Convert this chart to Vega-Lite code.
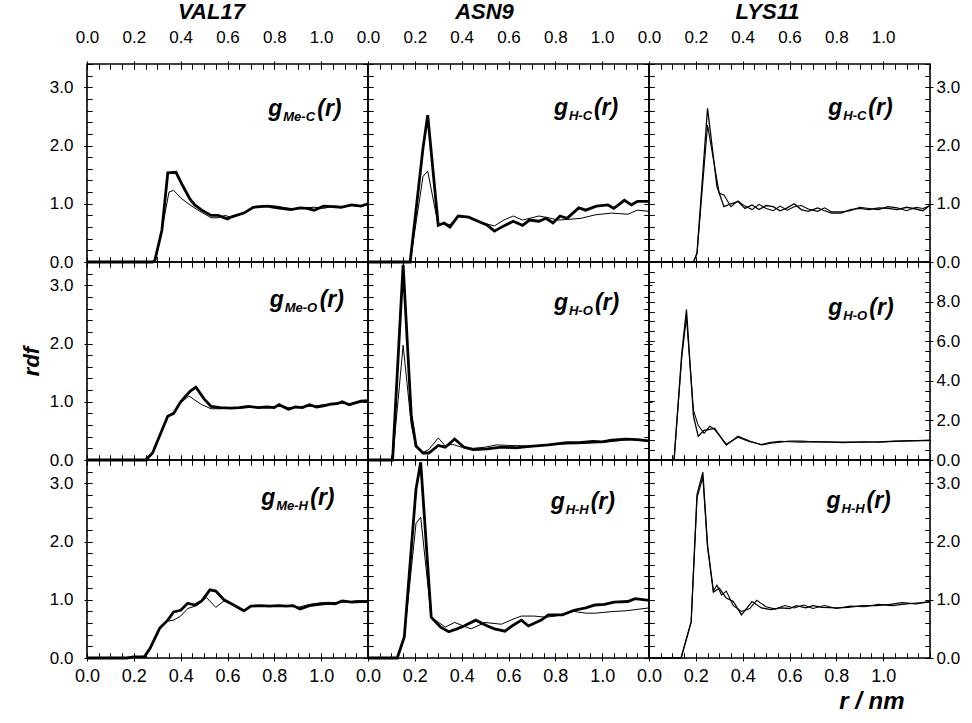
{
"$schema": "https://vega.github.io/schema/vega-lite/v6.json",
"background": "white",
"padding": {"left": 19, "top": 0, "right": 0, "bottom": 0},
"data": {"values": [
{"p":"V1","s":"a","r":0,"g":0},{"p":"V1","s":"a","r":0.28,"g":0},{"p":"V1","s":"a","r":0.29,"g":0.03},{"p":"V1","s":"a","r":0.32,"g":0.55},{"p":"V1","s":"a","r":0.345,"g":1.53},{"p":"V1","s":"a","r":0.38,"g":1.54},{"p":"V1","s":"a","r":0.41,"g":1.3},{"p":"V1","s":"a","r":0.44,"g":1.08},{"p":"V1","s":"a","r":0.46,"g":0.98},{"p":"V1","s":"a","r":0.49,"g":0.89},{"p":"V1","s":"a","r":0.53,"g":0.8},{"p":"V1","s":"a","r":0.56,"g":0.8},{"p":"V1","s":"a","r":0.6,"g":0.74},{"p":"V1","s":"a","r":0.62,"g":0.78},{"p":"V1","s":"a","r":0.67,"g":0.84},{"p":"V1","s":"a","r":0.71,"g":0.94},{"p":"V1","s":"a","r":0.74,"g":0.95},{"p":"V1","s":"a","r":0.77,"g":0.96},{"p":"V1","s":"a","r":0.8,"g":0.94},{"p":"V1","s":"a","r":0.83,"g":0.92},{"p":"V1","s":"a","r":0.87,"g":0.9},{"p":"V1","s":"a","r":0.91,"g":0.93},{"p":"V1","s":"a","r":0.94,"g":0.92},{"p":"V1","s":"a","r":0.97,"g":0.89},{"p":"V1","s":"a","r":1.01,"g":0.96},{"p":"V1","s":"a","r":1.05,"g":0.95},{"p":"V1","s":"a","r":1.085,"g":0.94},{"p":"V1","s":"a","r":1.13,"g":0.98},{"p":"V1","s":"a","r":1.17,"g":0.96},{"p":"V1","s":"a","r":1.2,"g":1.0},
{"p":"V1","s":"b","r":0,"g":0},{"p":"V1","s":"b","r":0.28,"g":0},{"p":"V1","s":"b","r":0.29,"g":0.03},{"p":"V1","s":"b","r":0.32,"g":0.55},{"p":"V1","s":"b","r":0.35,"g":1.2},{"p":"V1","s":"b","r":0.37,"g":1.23},{"p":"V1","s":"b","r":0.4,"g":1.1},{"p":"V1","s":"b","r":0.44,"g":0.98},{"p":"V1","s":"b","r":0.47,"g":0.9},{"p":"V1","s":"b","r":0.5,"g":0.83},{"p":"V1","s":"b","r":0.53,"g":0.76},{"p":"V1","s":"b","r":0.56,"g":0.76},{"p":"V1","s":"b","r":0.59,"g":0.8},{"p":"V1","s":"b","r":0.62,"g":0.76},{"p":"V1","s":"b","r":0.67,"g":0.84},{"p":"V1","s":"b","r":0.71,"g":0.95},{"p":"V1","s":"b","r":0.77,"g":0.97},{"p":"V1","s":"b","r":0.81,"g":0.96},{"p":"V1","s":"b","r":0.85,"g":0.93},{"p":"V1","s":"b","r":0.89,"g":0.91},{"p":"V1","s":"b","r":0.93,"g":0.93},{"p":"V1","s":"b","r":0.97,"g":0.94},{"p":"V1","s":"b","r":1.01,"g":0.92},{"p":"V1","s":"b","r":1.05,"g":0.96},{"p":"V1","s":"b","r":1.09,"g":0.95},{"p":"V1","s":"b","r":1.13,"g":0.97},{"p":"V1","s":"b","r":1.17,"g":0.95},{"p":"V1","s":"b","r":1.2,"g":0.99},
{"p":"A1","s":"a","r":0,"g":0},{"p":"A1","s":"a","r":0.18,"g":0},{"p":"A1","s":"a","r":0.235,"g":1.96},{"p":"A1","s":"a","r":0.255,"g":2.52},{"p":"A1","s":"a","r":0.3,"g":0.63},{"p":"A1","s":"a","r":0.325,"g":0.67},{"p":"A1","s":"a","r":0.35,"g":0.6},{"p":"A1","s":"a","r":0.385,"g":0.79},{"p":"A1","s":"a","r":0.43,"g":0.77},{"p":"A1","s":"a","r":0.47,"g":0.7},{"p":"A1","s":"a","r":0.51,"g":0.63},{"p":"A1","s":"a","r":0.54,"g":0.53},{"p":"A1","s":"a","r":0.58,"g":0.62},{"p":"A1","s":"a","r":0.62,"g":0.7},{"p":"A1","s":"a","r":0.66,"g":0.63},{"p":"A1","s":"a","r":0.69,"g":0.72},{"p":"A1","s":"a","r":0.73,"g":0.7},{"p":"A1","s":"a","r":0.76,"g":0.75},{"p":"A1","s":"a","r":0.79,"g":0.67},{"p":"A1","s":"a","r":0.82,"g":0.79},{"p":"A1","s":"a","r":0.85,"g":0.75},{"p":"A1","s":"a","r":0.9,"g":0.93},{"p":"A1","s":"a","r":0.93,"g":0.89},{"p":"A1","s":"a","r":0.975,"g":0.96},{"p":"A1","s":"a","r":1.025,"g":0.98},{"p":"A1","s":"a","r":1.05,"g":0.92},{"p":"A1","s":"a","r":1.095,"g":1.06},{"p":"A1","s":"a","r":1.125,"g":0.98},{"p":"A1","s":"a","r":1.15,"g":1.04},{"p":"A1","s":"a","r":1.2,"g":1.04},
{"p":"A1","s":"b","r":0,"g":0},{"p":"A1","s":"b","r":0.18,"g":0},{"p":"A1","s":"b","r":0.235,"g":1.47},{"p":"A1","s":"b","r":0.255,"g":1.56},{"p":"A1","s":"b","r":0.3,"g":0.63},{"p":"A1","s":"b","r":0.33,"g":0.66},{"p":"A1","s":"b","r":0.35,"g":0.64},{"p":"A1","s":"b","r":0.385,"g":0.78},{"p":"A1","s":"b","r":0.42,"g":0.78},{"p":"A1","s":"b","r":0.46,"g":0.71},{"p":"A1","s":"b","r":0.5,"g":0.66},{"p":"A1","s":"b","r":0.54,"g":0.62},{"p":"A1","s":"b","r":0.58,"g":0.72},{"p":"A1","s":"b","r":0.62,"g":0.79},{"p":"A1","s":"b","r":0.66,"g":0.72},{"p":"A1","s":"b","r":0.7,"g":0.76},{"p":"A1","s":"b","r":0.73,"g":0.79},{"p":"A1","s":"b","r":0.77,"g":0.76},{"p":"A1","s":"b","r":0.81,"g":0.72},{"p":"A1","s":"b","r":0.85,"g":0.73},{"p":"A1","s":"b","r":0.91,"g":0.75},{"p":"A1","s":"b","r":0.97,"g":0.81},{"p":"A1","s":"b","r":1.04,"g":0.84},{"p":"A1","s":"b","r":1.11,"g":0.82},{"p":"A1","s":"b","r":1.15,"g":0.89},{"p":"A1","s":"b","r":1.2,"g":0.87},
{"p":"L1","s":"a","r":0,"g":0},{"p":"L1","s":"a","r":0.19,"g":0},{"p":"L1","s":"a","r":0.205,"g":0.15},{"p":"L1","s":"a","r":0.25,"g":2.64},{"p":"L1","s":"a","r":0.29,"g":1.3},{"p":"L1","s":"a","r":0.32,"g":0.95},{"p":"L1","s":"a","r":0.35,"g":1.0},{"p":"L1","s":"a","r":0.38,"g":1.04},{"p":"L1","s":"a","r":0.41,"g":0.92},{"p":"L1","s":"a","r":0.44,"g":0.98},{"p":"L1","s":"a","r":0.47,"g":0.9},{"p":"L1","s":"a","r":0.5,"g":0.97},{"p":"L1","s":"a","r":0.53,"g":0.95},{"p":"L1","s":"a","r":0.56,"g":0.88},{"p":"L1","s":"a","r":0.59,"g":0.93},{"p":"L1","s":"a","r":0.62,"g":1.0},{"p":"L1","s":"a","r":0.65,"g":0.9},{"p":"L1","s":"a","r":0.68,"g":0.87},{"p":"L1","s":"a","r":0.72,"g":0.93},{"p":"L1","s":"a","r":0.75,"g":0.88},{"p":"L1","s":"a","r":0.78,"g":0.84},{"p":"L1","s":"a","r":0.82,"g":0.84},{"p":"L1","s":"a","r":0.86,"g":0.9},{"p":"L1","s":"a","r":0.9,"g":0.92},{"p":"L1","s":"a","r":0.94,"g":0.9},{"p":"L1","s":"a","r":0.98,"g":0.93},{"p":"L1","s":"a","r":1.02,"g":0.92},{"p":"L1","s":"a","r":1.06,"g":0.9},{"p":"L1","s":"a","r":1.1,"g":0.94},{"p":"L1","s":"a","r":1.14,"g":0.91},{"p":"L1","s":"a","r":1.17,"g":0.88},{"p":"L1","s":"a","r":1.2,"g":0.98},
{"p":"L1","s":"b","r":0,"g":0},{"p":"L1","s":"b","r":0.19,"g":0},{"p":"L1","s":"b","r":0.205,"g":0.15},{"p":"L1","s":"b","r":0.25,"g":2.35},{"p":"L1","s":"b","r":0.3,"g":1.18},{"p":"L1","s":"b","r":0.32,"g":1.15},{"p":"L1","s":"b","r":0.35,"g":0.95},{"p":"L1","s":"b","r":0.38,"g":1.05},{"p":"L1","s":"b","r":0.41,"g":0.96},{"p":"L1","s":"b","r":0.44,"g":0.9},{"p":"L1","s":"b","r":0.47,"g":0.99},{"p":"L1","s":"b","r":0.5,"g":0.92},{"p":"L1","s":"b","r":0.53,"g":0.88},{"p":"L1","s":"b","r":0.56,"g":0.96},{"p":"L1","s":"b","r":0.59,"g":0.89},{"p":"L1","s":"b","r":0.62,"g":0.95},{"p":"L1","s":"b","r":0.65,"g":0.97},{"p":"L1","s":"b","r":0.68,"g":0.91},{"p":"L1","s":"b","r":0.72,"g":0.87},{"p":"L1","s":"b","r":0.75,"g":0.93},{"p":"L1","s":"b","r":0.78,"g":0.86},{"p":"L1","s":"b","r":0.82,"g":0.86},{"p":"L1","s":"b","r":0.86,"g":0.88},{"p":"L1","s":"b","r":0.9,"g":0.94},{"p":"L1","s":"b","r":0.94,"g":0.92},{"p":"L1","s":"b","r":0.98,"g":0.9},{"p":"L1","s":"b","r":1.02,"g":0.95},{"p":"L1","s":"b","r":1.06,"g":0.93},{"p":"L1","s":"b","r":1.1,"g":0.88},{"p":"L1","s":"b","r":1.14,"g":0.94},{"p":"L1","s":"b","r":1.17,"g":0.92},{"p":"L1","s":"b","r":1.2,"g":0.96},
{"p":"V2","s":"a","r":0,"g":0},{"p":"V2","s":"a","r":0.25,"g":0},{"p":"V2","s":"a","r":0.28,"g":0.12},{"p":"V2","s":"a","r":0.32,"g":0.51},{"p":"V2","s":"a","r":0.345,"g":0.75},{"p":"V2","s":"a","r":0.37,"g":0.8},{"p":"V2","s":"a","r":0.4,"g":1.0},{"p":"V2","s":"a","r":0.44,"g":1.18},{"p":"V2","s":"a","r":0.465,"g":1.25},{"p":"V2","s":"a","r":0.5,"g":1.05},{"p":"V2","s":"a","r":0.53,"g":0.92},{"p":"V2","s":"a","r":0.57,"g":0.9},{"p":"V2","s":"a","r":0.61,"g":0.89},{"p":"V2","s":"a","r":0.65,"g":0.9},{"p":"V2","s":"a","r":0.69,"g":0.92},{"p":"V2","s":"a","r":0.73,"g":0.9},{"p":"V2","s":"a","r":0.77,"g":0.91},{"p":"V2","s":"a","r":0.8,"g":0.9},{"p":"V2","s":"a","r":0.82,"g":0.95},{"p":"V2","s":"a","r":0.86,"g":0.87},{"p":"V2","s":"a","r":0.89,"g":0.91},{"p":"V2","s":"a","r":0.92,"g":0.9},{"p":"V2","s":"a","r":0.95,"g":0.95},{"p":"V2","s":"a","r":0.98,"g":0.91},{"p":"V2","s":"a","r":1.01,"g":0.93},{"p":"V2","s":"a","r":1.04,"g":0.96},{"p":"V2","s":"a","r":1.07,"g":0.97},{"p":"V2","s":"a","r":1.09,"g":1.0},{"p":"V2","s":"a","r":1.12,"g":0.95},{"p":"V2","s":"a","r":1.17,"g":1.01},{"p":"V2","s":"a","r":1.2,"g":1.02},
{"p":"V2","s":"b","r":0,"g":0},{"p":"V2","s":"b","r":0.25,"g":0},{"p":"V2","s":"b","r":0.28,"g":0.12},{"p":"V2","s":"b","r":0.32,"g":0.52},{"p":"V2","s":"b","r":0.345,"g":0.76},{"p":"V2","s":"b","r":0.37,"g":0.82},{"p":"V2","s":"b","r":0.4,"g":0.98},{"p":"V2","s":"b","r":0.435,"g":1.1},{"p":"V2","s":"b","r":0.49,"g":0.95},{"p":"V2","s":"b","r":0.53,"g":0.88},{"p":"V2","s":"b","r":0.57,"g":0.88},{"p":"V2","s":"b","r":0.61,"g":0.9},{"p":"V2","s":"b","r":0.65,"g":0.89},{"p":"V2","s":"b","r":0.69,"g":0.9},{"p":"V2","s":"b","r":0.73,"g":0.91},{"p":"V2","s":"b","r":0.77,"g":0.9},{"p":"V2","s":"b","r":0.8,"g":0.92},{"p":"V2","s":"b","r":0.83,"g":0.92},{"p":"V2","s":"b","r":0.86,"g":0.9},{"p":"V2","s":"b","r":0.89,"g":0.9},{"p":"V2","s":"b","r":0.92,"g":0.92},{"p":"V2","s":"b","r":0.95,"g":0.92},{"p":"V2","s":"b","r":0.98,"g":0.93},{"p":"V2","s":"b","r":1.01,"g":0.95},{"p":"V2","s":"b","r":1.04,"g":0.95},{"p":"V2","s":"b","r":1.07,"g":0.98},{"p":"V2","s":"b","r":1.1,"g":0.97},{"p":"V2","s":"b","r":1.13,"g":0.97},{"p":"V2","s":"b","r":1.17,"g":0.99},{"p":"V2","s":"b","r":1.2,"g":1.01},
{"p":"A2","s":"a","r":0,"g":0},{"p":"A2","s":"a","r":0.105,"g":0},{"p":"A2","s":"a","r":0.15,"g":3.35},{"p":"A2","s":"a","r":0.185,"g":0.75},{"p":"A2","s":"a","r":0.205,"g":0.24},{"p":"A2","s":"a","r":0.235,"g":0.12},{"p":"A2","s":"a","r":0.26,"g":0.12},{"p":"A2","s":"a","r":0.3,"g":0.25},{"p":"A2","s":"a","r":0.33,"g":0.22},{"p":"A2","s":"a","r":0.37,"g":0.36},{"p":"A2","s":"a","r":0.41,"g":0.22},{"p":"A2","s":"a","r":0.45,"g":0.18},{"p":"A2","s":"a","r":0.51,"g":0.19},{"p":"A2","s":"a","r":0.57,"g":0.22},{"p":"A2","s":"a","r":0.63,"g":0.21},{"p":"A2","s":"a","r":0.68,"g":0.23},{"p":"A2","s":"a","r":0.77,"g":0.26},{"p":"A2","s":"a","r":0.85,"g":0.3},{"p":"A2","s":"a","r":0.9,"g":0.3},{"p":"A2","s":"a","r":0.96,"g":0.32},{"p":"A2","s":"a","r":1.0,"g":0.31},{"p":"A2","s":"a","r":1.04,"g":0.34},{"p":"A2","s":"a","r":1.1,"g":0.36},{"p":"A2","s":"a","r":1.15,"g":0.35},{"p":"A2","s":"a","r":1.2,"g":0.33},
{"p":"A2","s":"b","r":0,"g":0},{"p":"A2","s":"b","r":0.105,"g":0},{"p":"A2","s":"b","r":0.15,"g":1.97},{"p":"A2","s":"b","r":0.185,"g":0.6},{"p":"A2","s":"b","r":0.205,"g":0.22},{"p":"A2","s":"b","r":0.235,"g":0.13},{"p":"A2","s":"b","r":0.26,"g":0.18},{"p":"A2","s":"b","r":0.3,"g":0.38},{"p":"A2","s":"b","r":0.33,"g":0.24},{"p":"A2","s":"b","r":0.36,"g":0.27},{"p":"A2","s":"b","r":0.4,"g":0.22},{"p":"A2","s":"b","r":0.45,"g":0.2},{"p":"A2","s":"b","r":0.5,"g":0.22},{"p":"A2","s":"b","r":0.55,"g":0.26},{"p":"A2","s":"b","r":0.6,"g":0.25},{"p":"A2","s":"b","r":0.7,"g":0.24},{"p":"A2","s":"b","r":0.8,"g":0.27},{"p":"A2","s":"b","r":0.9,"g":0.28},{"p":"A2","s":"b","r":1.0,"g":0.3},{"p":"A2","s":"b","r":1.07,"g":0.33},{"p":"A2","s":"b","r":1.12,"g":0.36},{"p":"A2","s":"b","r":1.2,"g":0.32},
{"p":"L2","s":"a","r":0,"g":0},{"p":"L2","s":"a","r":0.107,"g":0},{"p":"L2","s":"a","r":0.14,"g":5.4},{"p":"L2","s":"a","r":0.16,"g":7.6},{"p":"L2","s":"a","r":0.19,"g":2.2},{"p":"L2","s":"a","r":0.21,"g":1.2},{"p":"L2","s":"a","r":0.235,"g":1.5},{"p":"L2","s":"a","r":0.26,"g":1.55},{"p":"L2","s":"a","r":0.28,"g":1.6},{"p":"L2","s":"a","r":0.33,"g":0.75},{"p":"L2","s":"a","r":0.38,"g":1.2},{"p":"L2","s":"a","r":0.43,"g":0.96},{"p":"L2","s":"a","r":0.48,"g":0.76},{"p":"L2","s":"a","r":0.52,"g":0.85},{"p":"L2","s":"a","r":0.56,"g":0.9},{"p":"L2","s":"a","r":0.6,"g":0.95},{"p":"L2","s":"a","r":0.65,"g":0.95},{"p":"L2","s":"a","r":0.7,"g":0.92},{"p":"L2","s":"a","r":0.76,"g":0.9},{"p":"L2","s":"a","r":0.83,"g":0.9},{"p":"L2","s":"a","r":0.91,"g":0.9},{"p":"L2","s":"a","r":0.98,"g":0.92},{"p":"L2","s":"a","r":1.05,"g":0.95},{"p":"L2","s":"a","r":1.12,"g":0.97},{"p":"L2","s":"a","r":1.2,"g":1.0},
{"p":"L2","s":"b","r":0,"g":0},{"p":"L2","s":"b","r":0.107,"g":0},{"p":"L2","s":"b","r":0.14,"g":5.2},{"p":"L2","s":"b","r":0.16,"g":7.2},{"p":"L2","s":"b","r":0.19,"g":2.5},{"p":"L2","s":"b","r":0.21,"g":1.75},{"p":"L2","s":"b","r":0.235,"g":1.35},{"p":"L2","s":"b","r":0.26,"g":1.7},{"p":"L2","s":"b","r":0.28,"g":1.55},{"p":"L2","s":"b","r":0.33,"g":0.8},{"p":"L2","s":"b","r":0.38,"g":1.15},{"p":"L2","s":"b","r":0.43,"g":0.92},{"p":"L2","s":"b","r":0.48,"g":0.78},{"p":"L2","s":"b","r":0.52,"g":0.9},{"p":"L2","s":"b","r":0.56,"g":0.95},{"p":"L2","s":"b","r":0.6,"g":0.92},{"p":"L2","s":"b","r":0.65,"g":0.9},{"p":"L2","s":"b","r":0.7,"g":0.93},{"p":"L2","s":"b","r":0.76,"g":0.92},{"p":"L2","s":"b","r":0.83,"g":0.88},{"p":"L2","s":"b","r":0.91,"g":0.92},{"p":"L2","s":"b","r":0.98,"g":0.9},{"p":"L2","s":"b","r":1.05,"g":0.94},{"p":"L2","s":"b","r":1.12,"g":0.98},{"p":"L2","s":"b","r":1.2,"g":0.98},
{"p":"V3","s":"a","r":0,"g":0},{"p":"V3","s":"a","r":0.17,"g":0},{"p":"V3","s":"a","r":0.2,"g":0.02},{"p":"V3","s":"a","r":0.245,"g":0.02},{"p":"V3","s":"a","r":0.27,"g":0.17},{"p":"V3","s":"a","r":0.31,"g":0.51},{"p":"V3","s":"a","r":0.345,"g":0.65},{"p":"V3","s":"a","r":0.37,"g":0.79},{"p":"V3","s":"a","r":0.4,"g":0.82},{"p":"V3","s":"a","r":0.43,"g":0.94},{"p":"V3","s":"a","r":0.46,"g":0.91},{"p":"V3","s":"a","r":0.49,"g":0.98},{"p":"V3","s":"a","r":0.525,"g":1.17},{"p":"V3","s":"a","r":0.55,"g":1.15},{"p":"V3","s":"a","r":0.585,"g":1.0},{"p":"V3","s":"a","r":0.63,"g":0.9},{"p":"V3","s":"a","r":0.67,"g":0.81},{"p":"V3","s":"a","r":0.7,"g":0.89},{"p":"V3","s":"a","r":0.74,"g":0.9},{"p":"V3","s":"a","r":0.78,"g":0.89},{"p":"V3","s":"a","r":0.82,"g":0.9},{"p":"V3","s":"a","r":0.85,"g":0.89},{"p":"V3","s":"a","r":0.88,"g":0.9},{"p":"V3","s":"a","r":0.91,"g":0.84},{"p":"V3","s":"a","r":0.95,"g":0.9},{"p":"V3","s":"a","r":0.99,"g":0.92},{"p":"V3","s":"a","r":1.03,"g":0.94},{"p":"V3","s":"a","r":1.06,"g":0.93},{"p":"V3","s":"a","r":1.09,"g":0.98},{"p":"V3","s":"a","r":1.13,"g":0.96},{"p":"V3","s":"a","r":1.17,"g":0.97},{"p":"V3","s":"a","r":1.2,"g":0.97},
{"p":"V3","s":"b","r":0,"g":0},{"p":"V3","s":"b","r":0.17,"g":0},{"p":"V3","s":"b","r":0.2,"g":0.02},{"p":"V3","s":"b","r":0.245,"g":0.03},{"p":"V3","s":"b","r":0.27,"g":0.18},{"p":"V3","s":"b","r":0.31,"g":0.52},{"p":"V3","s":"b","r":0.34,"g":0.63},{"p":"V3","s":"b","r":0.37,"g":0.65},{"p":"V3","s":"b","r":0.4,"g":0.72},{"p":"V3","s":"b","r":0.43,"g":0.85},{"p":"V3","s":"b","r":0.47,"g":0.9},{"p":"V3","s":"b","r":0.51,"g":1.04},{"p":"V3","s":"b","r":0.55,"g":0.87},{"p":"V3","s":"b","r":0.585,"g":0.98},{"p":"V3","s":"b","r":0.63,"g":0.9},{"p":"V3","s":"b","r":0.67,"g":0.82},{"p":"V3","s":"b","r":0.7,"g":0.89},{"p":"V3","s":"b","r":0.75,"g":0.89},{"p":"V3","s":"b","r":0.8,"g":0.9},{"p":"V3","s":"b","r":0.85,"g":0.9},{"p":"V3","s":"b","r":0.9,"g":0.87},{"p":"V3","s":"b","r":0.95,"g":0.92},{"p":"V3","s":"b","r":1.0,"g":0.95},{"p":"V3","s":"b","r":1.05,"g":0.95},{"p":"V3","s":"b","r":1.1,"g":0.96},{"p":"V3","s":"b","r":1.15,"g":0.98},{"p":"V3","s":"b","r":1.2,"g":0.98},
{"p":"A3","s":"a","r":0,"g":0},{"p":"A3","s":"a","r":0.125,"g":0},{"p":"A3","s":"a","r":0.155,"g":0.36},{"p":"A3","s":"a","r":0.205,"g":2.9},{"p":"A3","s":"a","r":0.225,"g":3.36},{"p":"A3","s":"a","r":0.27,"g":0.7},{"p":"A3","s":"a","r":0.31,"g":0.53},{"p":"A3","s":"a","r":0.345,"g":0.45},{"p":"A3","s":"a","r":0.38,"g":0.5},{"p":"A3","s":"a","r":0.41,"g":0.55},{"p":"A3","s":"a","r":0.46,"g":0.65},{"p":"A3","s":"a","r":0.51,"g":0.55},{"p":"A3","s":"a","r":0.54,"g":0.5},{"p":"A3","s":"a","r":0.585,"g":0.46},{"p":"A3","s":"a","r":0.615,"g":0.55},{"p":"A3","s":"a","r":0.655,"g":0.65},{"p":"A3","s":"a","r":0.685,"g":0.55},{"p":"A3","s":"a","r":0.74,"g":0.65},{"p":"A3","s":"a","r":0.77,"g":0.74},{"p":"A3","s":"a","r":0.83,"g":0.74},{"p":"A3","s":"a","r":0.88,"g":0.82},{"p":"A3","s":"a","r":0.93,"g":0.86},{"p":"A3","s":"a","r":0.97,"g":0.91},{"p":"A3","s":"a","r":1.01,"g":0.92},{"p":"A3","s":"a","r":1.05,"g":0.96},{"p":"A3","s":"a","r":1.11,"g":0.97},{"p":"A3","s":"a","r":1.14,"g":1.02},{"p":"A3","s":"a","r":1.2,"g":0.99},
{"p":"A3","s":"b","r":0,"g":0},{"p":"A3","s":"b","r":0.125,"g":0},{"p":"A3","s":"b","r":0.155,"g":0.36},{"p":"A3","s":"b","r":0.205,"g":2.31},{"p":"A3","s":"b","r":0.225,"g":2.42},{"p":"A3","s":"b","r":0.27,"g":0.7},{"p":"A3","s":"b","r":0.33,"g":0.53},{"p":"A3","s":"b","r":0.37,"g":0.61},{"p":"A3","s":"b","r":0.44,"g":0.5},{"p":"A3","s":"b","r":0.5,"g":0.61},{"p":"A3","s":"b","r":0.57,"g":0.58},{"p":"A3","s":"b","r":0.615,"g":0.66},{"p":"A3","s":"b","r":0.655,"g":0.72},{"p":"A3","s":"b","r":0.71,"g":0.72},{"p":"A3","s":"b","r":0.76,"g":0.7},{"p":"A3","s":"b","r":0.8,"g":0.72},{"p":"A3","s":"b","r":0.88,"g":0.8},{"p":"A3","s":"b","r":0.93,"g":0.77},{"p":"A3","s":"b","r":0.97,"g":0.77},{"p":"A3","s":"b","r":1.05,"g":0.8},{"p":"A3","s":"b","r":1.1,"g":0.81},{"p":"A3","s":"b","r":1.14,"g":0.83},{"p":"A3","s":"b","r":1.2,"g":0.86},
{"p":"L3","s":"a","r":0,"g":0},{"p":"L3","s":"a","r":0.137,"g":0},{"p":"L3","s":"a","r":0.18,"g":0.62},{"p":"L3","s":"a","r":0.205,"g":2.8},{"p":"L3","s":"a","r":0.23,"g":3.19},{"p":"L3","s":"a","r":0.25,"g":1.94},{"p":"L3","s":"a","r":0.275,"g":1.13},{"p":"L3","s":"a","r":0.3,"g":1.2},{"p":"L3","s":"a","r":0.33,"g":1.03},{"p":"L3","s":"a","r":0.36,"g":0.97},{"p":"L3","s":"a","r":0.395,"g":0.74},{"p":"L3","s":"a","r":0.44,"g":0.97},{"p":"L3","s":"a","r":0.48,"g":0.86},{"p":"L3","s":"a","r":0.52,"g":0.83},{"p":"L3","s":"a","r":0.56,"g":0.86},{"p":"L3","s":"a","r":0.6,"g":0.85},{"p":"L3","s":"a","r":0.63,"g":0.9},{"p":"L3","s":"a","r":0.67,"g":0.86},{"p":"L3","s":"a","r":0.7,"g":0.9},{"p":"L3","s":"a","r":0.74,"g":0.87},{"p":"L3","s":"a","r":0.8,"g":0.86},{"p":"L3","s":"a","r":0.85,"g":0.87},{"p":"L3","s":"a","r":0.91,"g":0.9},{"p":"L3","s":"a","r":0.97,"g":0.9},{"p":"L3","s":"a","r":1.03,"g":0.92},{"p":"L3","s":"a","r":1.08,"g":0.95},{"p":"L3","s":"a","r":1.14,"g":0.93},{"p":"L3","s":"a","r":1.2,"g":0.97},
{"p":"L3","s":"b","r":0,"g":0},{"p":"L3","s":"b","r":0.137,"g":0},{"p":"L3","s":"b","r":0.18,"g":0.62},{"p":"L3","s":"b","r":0.205,"g":2.75},{"p":"L3","s":"b","r":0.23,"g":3.1},{"p":"L3","s":"b","r":0.25,"g":1.9},{"p":"L3","s":"b","r":0.275,"g":1.15},{"p":"L3","s":"b","r":0.29,"g":1.25},{"p":"L3","s":"b","r":0.31,"g":1.08},{"p":"L3","s":"b","r":0.33,"g":1.15},{"p":"L3","s":"b","r":0.36,"g":0.9},{"p":"L3","s":"b","r":0.395,"g":0.8},{"p":"L3","s":"b","r":0.43,"g":0.85},{"p":"L3","s":"b","r":0.46,"g":0.99},{"p":"L3","s":"b","r":0.5,"g":0.88},{"p":"L3","s":"b","r":0.54,"g":0.84},{"p":"L3","s":"b","r":0.58,"g":0.9},{"p":"L3","s":"b","r":0.62,"g":0.86},{"p":"L3","s":"b","r":0.66,"g":0.91},{"p":"L3","s":"b","r":0.7,"g":0.85},{"p":"L3","s":"b","r":0.75,"g":0.9},{"p":"L3","s":"b","r":0.8,"g":0.85},{"p":"L3","s":"b","r":0.86,"g":0.89},{"p":"L3","s":"b","r":0.92,"g":0.88},{"p":"L3","s":"b","r":0.98,"g":0.92},{"p":"L3","s":"b","r":1.04,"g":0.9},{"p":"L3","s":"b","r":1.1,"g":0.93},{"p":"L3","s":"b","r":1.16,"g":0.95},{"p":"L3","s":"b","r":1.2,"g":0.96}
]},
"columns": 3,
"spacing": 0,
"bounds": "flush",
"concat": [
{"width":281,"height":198,"title":{"text":"VAL17","dx":-16,"offset":4,"font":"Liberation Sans","fontSize":22,"fontStyle":"italic","fontWeight":"bold","color":"black"},
 "layer":[
  {"transform":[{"filter":"datum.p=='V1' && datum.s=='a'"}],"mark":{"type":"line","strokeWidth":2.8,"color":"black"},
   "encoding":{"x":{"field":"r","type":"quantitative","scale":{"domain":[0,1.2],"nice":false},"axis":{"orient":"bottom","tickCount":24,"tickSize":-5,"labels":false,"title":null,"grid":true,"gridColor":"black","gridDash":[5,1000],"gridOpacity":1,"gridWidth":1}},
   "y":{"field":"g","type":"quantitative","scale":{"domain":[0,3.4],"nice":false},"axis":{"orient":"left","tickCount":17,"tickSize":-5,"labels":false,"title":null,"grid":true,"gridColor":"black","gridDash":[5,1000],"gridOpacity":1,"gridWidth":1}}}},
  {"transform":[{"filter":"datum.p=='V1' && datum.s=='b'"}],"mark":{"type":"line","strokeWidth":1,"color":"black"},
   "encoding":{"x":{"field":"r","type":"quantitative","axis":{"orient":"top","tickCount":24,"tickSize":-5,"labels":false,"title":null,"grid":true,"gridColor":"black","gridDash":[5,1000],"gridOpacity":1,"gridWidth":1}},
   "y":{"field":"g","type":"quantitative","axis":{"orient":"right","tickCount":17,"tickSize":-5,"labels":false,"title":null,"grid":true,"gridColor":"black","gridDash":[5,1000],"gridOpacity":1,"gridWidth":1}}}},
  {"data":{"values":[{}]},"mark":{"type":"text","text":"g","fontSize":23,"font":"Liberation Sans","fontStyle":"italic","fontWeight":"bold","align":"left","baseline":"alphabetic","color":"black"},"encoding":{"x":{"datum":0.774,"axis":{"orient":"bottom","values":[0,0.2,0.4,0.6,0.8,1.0],"tickSize":3,"labels":false,"title":null}},"y":{"datum":2.5,"axis":{"orient":"left","values":[0,1,2,3],"tickSize":3,"labels":true,"format":".1f","labelPadding":11,"labelFont":"Liberation Sans","labelFontSize":17,"labelFlush":false,"labelOverlap":false,"title":null}}}},
  {"data":{"values":[{}]},"mark":{"type":"text","text":"Me-C","fontSize":13,"dx":15,"dy":5,"font":"Liberation Sans","fontStyle":"italic","fontWeight":"bold","align":"left","baseline":"alphabetic","color":"black"},"encoding":{"x":{"datum":0.774,"axis":{"orient":"bottom","values":[0,0.2,0.4,0.6,0.8,1.0],"tickSize":3,"labels":false,"title":null}},"y":{"datum":2.5,"axis":{"orient":"left","values":[0,1,2,3],"tickSize":3,"labels":false,"title":null}}}},
  {"data":{"values":[{}]},"mark":{"type":"text","text":"(r)","fontSize":23,"dx":49,"font":"Liberation Sans","fontStyle":"italic","fontWeight":"bold","align":"left","baseline":"alphabetic","color":"black"},"encoding":{"x":{"datum":0.774,"axis":{"orient":"top","values":[0,0.2,0.4,0.6,0.8,1.0],"tickSize":3,"labels":true,"format":".1f","labelPadding":15,"labelFont":"Liberation Sans","labelFontSize":17,"labelFlush":false,"labelOverlap":false,"title":null}},"y":{"datum":2.5,"axis":{"orient":"right","values":[0,1,2,3],"tickSize":3,"labels":false,"title":null}}}}
 ],
 "resolve":{"axis":{"x":"independent","y":"independent"}}},
{"width":281,"height":198,"title":{"text":"ASN9","dx":-24,"offset":4,"font":"Liberation Sans","fontSize":22,"fontStyle":"italic","fontWeight":"bold","color":"black"},
 "layer":[
  {"transform":[{"filter":"datum.p=='A1' && datum.s=='a'"}],"mark":{"type":"line","strokeWidth":2.8,"color":"black"},
   "encoding":{"x":{"field":"r","type":"quantitative","scale":{"domain":[0,1.2],"nice":false},"axis":{"orient":"bottom","tickCount":24,"tickSize":-5,"labels":false,"title":null,"grid":true,"gridColor":"black","gridDash":[5,1000],"gridOpacity":1,"gridWidth":1}},
   "y":{"field":"g","type":"quantitative","scale":{"domain":[0,3.4],"nice":false},"axis":{"orient":"left","tickCount":17,"tickSize":-5,"labels":false,"title":null,"grid":true,"gridColor":"black","gridDash":[5,1000],"gridOpacity":1,"gridWidth":1}}}},
  {"transform":[{"filter":"datum.p=='A1' && datum.s=='b'"}],"mark":{"type":"line","strokeWidth":1,"color":"black"},
   "encoding":{"x":{"field":"r","type":"quantitative","axis":{"orient":"top","tickCount":24,"tickSize":-5,"labels":false,"title":null,"grid":true,"gridColor":"black","gridDash":[5,1000],"gridOpacity":1,"gridWidth":1}},
   "y":{"field":"g","type":"quantitative","axis":{"orient":"right","tickCount":17,"tickSize":-5,"labels":false,"title":null,"grid":true,"gridColor":"black","gridDash":[5,1000],"gridOpacity":1,"gridWidth":1}}}},
  {"data":{"values":[{}]},"mark":{"type":"text","text":"g","fontSize":23,"font":"Liberation Sans","fontStyle":"italic","fontWeight":"bold","align":"left","baseline":"alphabetic","color":"black"},"encoding":{"x":{"datum":0.794,"axis":{"orient":"bottom","values":[0,0.2,0.4,0.6,0.8,1.0],"tickSize":3,"labels":false,"title":null}},"y":{"datum":2.52,"axis":{"orient":"left","values":[0,1,2,3],"tickSize":3,"labels":false,"title":null}}}},
  {"data":{"values":[{}]},"mark":{"type":"text","text":"H-C","fontSize":13,"dx":15,"dy":5,"font":"Liberation Sans","fontStyle":"italic","fontWeight":"bold","align":"left","baseline":"alphabetic","color":"black"},"encoding":{"x":{"datum":0.794,"axis":{"orient":"bottom","values":[0,0.2,0.4,0.6,0.8,1.0],"tickSize":3,"labels":false,"title":null}},"y":{"datum":2.52,"axis":{"orient":"left","values":[0,1,2,3],"tickSize":3,"labels":false,"title":null}}}},
  {"data":{"values":[{}]},"mark":{"type":"text","text":"(r)","fontSize":23,"dx":40,"font":"Liberation Sans","fontStyle":"italic","fontWeight":"bold","align":"left","baseline":"alphabetic","color":"black"},"encoding":{"x":{"datum":0.794,"axis":{"orient":"top","values":[0,0.2,0.4,0.6,0.8,1.0],"tickSize":3,"labels":true,"format":".1f","labelPadding":15,"labelFont":"Liberation Sans","labelFontSize":17,"labelFlush":false,"labelOverlap":false,"title":null}},"y":{"datum":2.52,"axis":{"orient":"right","values":[0,1,2,3],"tickSize":3,"labels":false,"title":null}}}}
 ],
 "resolve":{"axis":{"x":"independent","y":"independent"}}},
{"width":281,"height":198,"title":{"text":"LYS11","dx":-22,"offset":4,"font":"Liberation Sans","fontSize":22,"fontStyle":"italic","fontWeight":"bold","color":"black"},
 "layer":[
  {"transform":[{"filter":"datum.p=='L1' && datum.s=='a'"}],"mark":{"type":"line","strokeWidth":1.3,"color":"black"},
   "encoding":{"x":{"field":"r","type":"quantitative","scale":{"domain":[0,1.2],"nice":false},"axis":{"orient":"bottom","tickCount":24,"tickSize":-5,"labels":false,"title":null,"grid":true,"gridColor":"black","gridDash":[5,1000],"gridOpacity":1,"gridWidth":1}},
   "y":{"field":"g","type":"quantitative","scale":{"domain":[0,3.4],"nice":false},"axis":{"orient":"left","tickCount":17,"tickSize":-5,"labels":false,"title":null,"grid":true,"gridColor":"black","gridDash":[5,1000],"gridOpacity":1,"gridWidth":1}}}},
  {"transform":[{"filter":"datum.p=='L1' && datum.s=='b'"}],"mark":{"type":"line","strokeWidth":1.1,"color":"black"},
   "encoding":{"x":{"field":"r","type":"quantitative","axis":{"orient":"top","tickCount":24,"tickSize":-5,"labels":false,"title":null,"grid":true,"gridColor":"black","gridDash":[5,1000],"gridOpacity":1,"gridWidth":1}},
   "y":{"field":"g","type":"quantitative","axis":{"orient":"right","tickCount":17,"tickSize":-5,"labels":false,"title":null,"grid":true,"gridColor":"black","gridDash":[5,1000],"gridOpacity":1,"gridWidth":1}}}},
  {"data":{"values":[{}]},"mark":{"type":"text","text":"g","fontSize":23,"font":"Liberation Sans","fontStyle":"italic","fontWeight":"bold","align":"left","baseline":"alphabetic","color":"black"},"encoding":{"x":{"datum":0.766,"axis":{"orient":"bottom","values":[0,0.2,0.4,0.6,0.8,1.0],"tickSize":3,"labels":false,"title":null}},"y":{"datum":2.52,"axis":{"orient":"left","values":[0,1,2,3],"tickSize":3,"labels":false,"title":null}}}},
  {"data":{"values":[{}]},"mark":{"type":"text","text":"H-C","fontSize":13,"dx":15,"dy":5,"font":"Liberation Sans","fontStyle":"italic","fontWeight":"bold","align":"left","baseline":"alphabetic","color":"black"},"encoding":{"x":{"datum":0.766,"axis":{"orient":"bottom","values":[0,0.2,0.4,0.6,0.8,1.0],"tickSize":3,"labels":false,"title":null}},"y":{"datum":2.52,"axis":{"orient":"left","values":[0,1,2,3],"tickSize":3,"labels":false,"title":null}}}},
  {"data":{"values":[{}]},"mark":{"type":"text","text":"(r)","fontSize":23,"dx":40,"font":"Liberation Sans","fontStyle":"italic","fontWeight":"bold","align":"left","baseline":"alphabetic","color":"black"},"encoding":{"x":{"datum":0.766,"axis":{"orient":"top","values":[0,0.2,0.4,0.6,0.8,1.0],"tickSize":3,"labels":true,"format":".1f","labelPadding":15,"labelFont":"Liberation Sans","labelFontSize":17,"labelFlush":false,"labelOverlap":false,"title":null}},"y":{"datum":2.52,"axis":{"orient":"right","values":[0,1,2,3],"tickSize":3,"labels":true,"format":".1f","labelPadding":3,"labelFont":"Liberation Sans","labelFontSize":17,"labelFlush":false,"labelOverlap":false,"title":null}}}}
 ],
 "resolve":{"axis":{"x":"independent","y":"independent"}}},
{"width":281,"height":198,
 "layer":[
  {"transform":[{"filter":"datum.p=='V2' && datum.s=='a'"}],"mark":{"type":"line","strokeWidth":2.8,"color":"black"},
   "encoding":{"x":{"field":"r","type":"quantitative","scale":{"domain":[0,1.2],"nice":false},"axis":{"orient":"bottom","tickCount":24,"tickSize":-5,"labels":false,"title":null,"grid":true,"gridColor":"black","gridDash":[5,1000],"gridOpacity":1,"gridWidth":1}},
   "y":{"field":"g","type":"quantitative","scale":{"domain":[0,3.4],"nice":false},"axis":{"orient":"left","tickCount":17,"tickSize":-5,"labels":false,"title":null,"grid":true,"gridColor":"black","gridDash":[5,1000],"gridOpacity":1,"gridWidth":1}}}},
  {"transform":[{"filter":"datum.p=='V2' && datum.s=='b'"}],"mark":{"type":"line","strokeWidth":1,"color":"black"},
   "encoding":{"x":{"field":"r","type":"quantitative","axis":{"orient":"top","tickCount":24,"tickSize":-5,"labels":false,"title":null,"grid":true,"gridColor":"black","gridDash":[5,1000],"gridOpacity":1,"gridWidth":1}},
   "y":{"field":"g","type":"quantitative","axis":{"orient":"right","tickCount":17,"tickSize":-5,"labels":false,"title":null,"grid":true,"gridColor":"black","gridDash":[5,1000],"gridOpacity":1,"gridWidth":1}}}},
  {"data":{"values":[{}]},"mark":{"type":"text","text":"g","fontSize":23,"font":"Liberation Sans","fontStyle":"italic","fontWeight":"bold","align":"left","baseline":"alphabetic","color":"black"},"encoding":{"x":{"datum":0.78,"axis":{"orient":"bottom","values":[0,0.2,0.4,0.6,0.8,1.0],"tickSize":3,"labels":false,"title":null}},"y":{"datum":2.62,"axis":{"orient":"left","values":[0,1,2,3],"tickSize":3,"labels":true,"format":".1f","labelPadding":11,"labelFont":"Liberation Sans","labelFontSize":17,"labelFlush":false,"labelOverlap":false,"title":"rdf","titleFont":"Liberation Sans","titleFontSize":22,"titleFontStyle":"italic","titleFontWeight":"bold","titleColor":"black","titlePadding":6}}}},
  {"data":{"values":[{}]},"mark":{"type":"text","text":"Me-O","fontSize":13,"dx":15,"dy":5,"font":"Liberation Sans","fontStyle":"italic","fontWeight":"bold","align":"left","baseline":"alphabetic","color":"black"},"encoding":{"x":{"datum":0.78,"axis":{"orient":"bottom","values":[0,0.2,0.4,0.6,0.8,1.0],"tickSize":3,"labels":false,"title":null}},"y":{"datum":2.62,"axis":{"orient":"right","values":[0,1,2,3],"tickSize":3,"labels":false,"title":null}}}},
  {"data":{"values":[{}]},"mark":{"type":"text","text":"(r)","fontSize":23,"dx":50,"font":"Liberation Sans","fontStyle":"italic","fontWeight":"bold","align":"left","baseline":"alphabetic","color":"black"},"encoding":{"x":{"datum":0.78,"axis":{"orient":"top","values":[0,0.2,0.4,0.6,0.8,1.0],"tickSize":3,"labels":false,"title":null}},"y":{"datum":2.62,"axis":{"orient":"right","values":[0,1,2,3],"tickSize":3,"labels":false,"title":null}}}}
 ],
 "resolve":{"axis":{"x":"independent","y":"independent"}}},
{"width":281,"height":198,
 "layer":[
  {"transform":[{"filter":"datum.p=='A2' && datum.s=='a'"}],"mark":{"type":"line","strokeWidth":2.8,"color":"black"},
   "encoding":{"x":{"field":"r","type":"quantitative","scale":{"domain":[0,1.2],"nice":false},"axis":{"orient":"bottom","tickCount":24,"tickSize":-5,"labels":false,"title":null,"grid":true,"gridColor":"black","gridDash":[5,1000],"gridOpacity":1,"gridWidth":1}},
   "y":{"field":"g","type":"quantitative","scale":{"domain":[0,3.4],"nice":false},"axis":{"orient":"left","tickCount":17,"tickSize":-5,"labels":false,"title":null,"grid":true,"gridColor":"black","gridDash":[5,1000],"gridOpacity":1,"gridWidth":1}}}},
  {"transform":[{"filter":"datum.p=='A2' && datum.s=='b'"}],"mark":{"type":"line","strokeWidth":1,"color":"black"},
   "encoding":{"x":{"field":"r","type":"quantitative","axis":{"orient":"top","tickCount":24,"tickSize":-5,"labels":false,"title":null,"grid":true,"gridColor":"black","gridDash":[5,1000],"gridOpacity":1,"gridWidth":1}},
   "y":{"field":"g","type":"quantitative","axis":{"orient":"right","tickCount":17,"tickSize":-5,"labels":false,"title":null,"grid":true,"gridColor":"black","gridDash":[5,1000],"gridOpacity":1,"gridWidth":1}}}},
  {"data":{"values":[{}]},"mark":{"type":"text","text":"g","fontSize":23,"font":"Liberation Sans","fontStyle":"italic","fontWeight":"bold","align":"left","baseline":"alphabetic","color":"black"},"encoding":{"x":{"datum":0.794,"axis":{"orient":"bottom","values":[0,0.2,0.4,0.6,0.8,1.0],"tickSize":3,"labels":false,"title":null}},"y":{"datum":2.57,"axis":{"orient":"left","values":[0,1,2,3],"tickSize":3,"labels":false,"title":null}}}},
  {"data":{"values":[{}]},"mark":{"type":"text","text":"H-O","fontSize":13,"dx":15,"dy":5,"font":"Liberation Sans","fontStyle":"italic","fontWeight":"bold","align":"left","baseline":"alphabetic","color":"black"},"encoding":{"x":{"datum":0.794,"axis":{"orient":"bottom","values":[0,0.2,0.4,0.6,0.8,1.0],"tickSize":3,"labels":false,"title":null}},"y":{"datum":2.57,"axis":{"orient":"left","values":[0,1,2,3],"tickSize":3,"labels":false,"title":null}}}},
  {"data":{"values":[{}]},"mark":{"type":"text","text":"(r)","fontSize":23,"dx":41,"font":"Liberation Sans","fontStyle":"italic","fontWeight":"bold","align":"left","baseline":"alphabetic","color":"black"},"encoding":{"x":{"datum":0.794,"axis":{"orient":"top","values":[0,0.2,0.4,0.6,0.8,1.0],"tickSize":3,"labels":false,"title":null}},"y":{"datum":2.57,"axis":{"orient":"right","values":[0,1,2,3],"tickSize":3,"labels":false,"title":null}}}}
 ],
 "resolve":{"axis":{"x":"independent","y":"independent"}}},
{"width":281,"height":198,
 "layer":[
  {"transform":[{"filter":"datum.p=='L2' && datum.s=='a'"}],"mark":{"type":"line","strokeWidth":1.3,"color":"black"},
   "encoding":{"x":{"field":"r","type":"quantitative","scale":{"domain":[0,1.2],"nice":false},"axis":{"orient":"bottom","tickCount":24,"tickSize":-5,"labels":false,"title":null,"grid":true,"gridColor":"black","gridDash":[5,1000],"gridOpacity":1,"gridWidth":1}},
   "y":{"field":"g","type":"quantitative","scale":{"domain":[0,10],"nice":false},"axis":{"orient":"left","tickCount":20,"tickSize":-5,"labels":false,"title":null,"grid":true,"gridColor":"black","gridDash":[5,1000],"gridOpacity":1,"gridWidth":1}}}},
  {"transform":[{"filter":"datum.p=='L2' && datum.s=='b'"}],"mark":{"type":"line","strokeWidth":1.1,"color":"black"},
   "encoding":{"x":{"field":"r","type":"quantitative","axis":{"orient":"top","tickCount":24,"tickSize":-5,"labels":false,"title":null,"grid":true,"gridColor":"black","gridDash":[5,1000],"gridOpacity":1,"gridWidth":1}},
   "y":{"field":"g","type":"quantitative","axis":{"orient":"right","tickCount":20,"tickSize":-5,"labels":false,"title":null,"grid":true,"gridColor":"black","gridDash":[5,1000],"gridOpacity":1,"gridWidth":1}}}},
  {"data":{"values":[{}]},"mark":{"type":"text","text":"g","fontSize":23,"font":"Liberation Sans","fontStyle":"italic","fontWeight":"bold","align":"left","baseline":"alphabetic","color":"black"},"encoding":{"x":{"datum":0.766,"axis":{"orient":"bottom","values":[0,0.2,0.4,0.6,0.8,1.0],"tickSize":3,"labels":false,"title":null}},"y":{"datum":7.3,"axis":{"orient":"left","values":[0,2,4,6,8],"tickSize":3,"labels":false,"title":null}}}},
  {"data":{"values":[{}]},"mark":{"type":"text","text":"H-O","fontSize":13,"dx":15,"dy":5,"font":"Liberation Sans","fontStyle":"italic","fontWeight":"bold","align":"left","baseline":"alphabetic","color":"black"},"encoding":{"x":{"datum":0.766,"axis":{"orient":"bottom","values":[0,0.2,0.4,0.6,0.8,1.0],"tickSize":3,"labels":false,"title":null}},"y":{"datum":7.3,"axis":{"orient":"left","values":[0,2,4,6,8],"tickSize":3,"labels":false,"title":null}}}},
  {"data":{"values":[{}]},"mark":{"type":"text","text":"(r)","fontSize":23,"dx":41,"font":"Liberation Sans","fontStyle":"italic","fontWeight":"bold","align":"left","baseline":"alphabetic","color":"black"},"encoding":{"x":{"datum":0.766,"axis":{"orient":"top","values":[0,0.2,0.4,0.6,0.8,1.0],"tickSize":3,"labels":false,"title":null}},"y":{"datum":7.3,"axis":{"orient":"right","values":[0,2,4,6,8],"tickSize":3,"labels":true,"format":".1f","labelPadding":3,"labelFont":"Liberation Sans","labelFontSize":17,"labelFlush":false,"labelOverlap":false,"title":null}}}}
 ],
 "resolve":{"axis":{"x":"independent","y":"independent"}}},
{"width":281,"height":198,
 "layer":[
  {"transform":[{"filter":"datum.p=='V3' && datum.s=='a'"}],"mark":{"type":"line","strokeWidth":2.8,"color":"black"},
   "encoding":{"x":{"field":"r","type":"quantitative","scale":{"domain":[0,1.2],"nice":false},"axis":{"orient":"bottom","tickCount":24,"tickSize":-5,"labels":false,"title":null,"grid":true,"gridColor":"black","gridDash":[5,1000],"gridOpacity":1,"gridWidth":1}},
   "y":{"field":"g","type":"quantitative","scale":{"domain":[0,3.4],"nice":false},"axis":{"orient":"left","tickCount":17,"tickSize":-5,"labels":false,"title":null,"grid":true,"gridColor":"black","gridDash":[5,1000],"gridOpacity":1,"gridWidth":1}}}},
  {"transform":[{"filter":"datum.p=='V3' && datum.s=='b'"}],"mark":{"type":"line","strokeWidth":1,"color":"black"},
   "encoding":{"x":{"field":"r","type":"quantitative","axis":{"orient":"top","tickCount":24,"tickSize":-5,"labels":false,"title":null,"grid":true,"gridColor":"black","gridDash":[5,1000],"gridOpacity":1,"gridWidth":1}},
   "y":{"field":"g","type":"quantitative","axis":{"orient":"right","tickCount":17,"tickSize":-5,"labels":false,"title":null,"grid":true,"gridColor":"black","gridDash":[5,1000],"gridOpacity":1,"gridWidth":1}}}},
  {"data":{"values":[{}]},"mark":{"type":"text","text":"g","fontSize":23,"font":"Liberation Sans","fontStyle":"italic","fontWeight":"bold","align":"left","baseline":"alphabetic","color":"black"},"encoding":{"x":{"datum":0.744,"axis":{"orient":"bottom","values":[0,0.2,0.4,0.6,0.8,1.0],"tickSize":3,"labels":true,"format":".1f","labelPadding":6,"labelFont":"Liberation Sans","labelFontSize":18,"labelFlush":false,"labelOverlap":false,"title":null}},"y":{"datum":2.62,"axis":{"orient":"left","values":[0,1,2,3],"tickSize":3,"labels":true,"format":".1f","labelPadding":11,"labelFont":"Liberation Sans","labelFontSize":17,"labelFlush":false,"labelOverlap":false,"title":null}}}},
  {"data":{"values":[{}]},"mark":{"type":"text","text":"Me-H","fontSize":13,"dx":15,"dy":5,"font":"Liberation Sans","fontStyle":"italic","fontWeight":"bold","align":"left","baseline":"alphabetic","color":"black"},"encoding":{"x":{"datum":0.744,"axis":{"orient":"top","values":[0,0.2,0.4,0.6,0.8,1.0],"tickSize":3,"labels":false,"title":null}},"y":{"datum":2.62,"axis":{"orient":"right","values":[0,1,2,3],"tickSize":3,"labels":false,"title":null}}}},
  {"data":{"values":[{}]},"mark":{"type":"text","text":"(r)","fontSize":23,"dx":49,"font":"Liberation Sans","fontStyle":"italic","fontWeight":"bold","align":"left","baseline":"alphabetic","color":"black"},"encoding":{"x":{"datum":0.744,"axis":{"orient":"top","values":[0,0.2,0.4,0.6,0.8,1.0],"tickSize":3,"labels":false,"title":null}},"y":{"datum":2.62,"axis":{"orient":"right","values":[0,1,2,3],"tickSize":3,"labels":false,"title":null}}}}
 ],
 "resolve":{"axis":{"x":"independent","y":"independent"}}},
{"width":281,"height":198,
 "layer":[
  {"transform":[{"filter":"datum.p=='A3' && datum.s=='a'"}],"mark":{"type":"line","strokeWidth":2.8,"color":"black"},
   "encoding":{"x":{"field":"r","type":"quantitative","scale":{"domain":[0,1.2],"nice":false},"axis":{"orient":"bottom","tickCount":24,"tickSize":-5,"labels":false,"title":null,"grid":true,"gridColor":"black","gridDash":[5,1000],"gridOpacity":1,"gridWidth":1}},
   "y":{"field":"g","type":"quantitative","scale":{"domain":[0,3.4],"nice":false},"axis":{"orient":"left","tickCount":17,"tickSize":-5,"labels":false,"title":null,"grid":true,"gridColor":"black","gridDash":[5,1000],"gridOpacity":1,"gridWidth":1}}}},
  {"transform":[{"filter":"datum.p=='A3' && datum.s=='b'"}],"mark":{"type":"line","strokeWidth":1,"color":"black"},
   "encoding":{"x":{"field":"r","type":"quantitative","axis":{"orient":"top","tickCount":24,"tickSize":-5,"labels":false,"title":null,"grid":true,"gridColor":"black","gridDash":[5,1000],"gridOpacity":1,"gridWidth":1}},
   "y":{"field":"g","type":"quantitative","axis":{"orient":"right","tickCount":17,"tickSize":-5,"labels":false,"title":null,"grid":true,"gridColor":"black","gridDash":[5,1000],"gridOpacity":1,"gridWidth":1}}}},
  {"data":{"values":[{}]},"mark":{"type":"text","text":"g","fontSize":23,"font":"Liberation Sans","fontStyle":"italic","fontWeight":"bold","align":"left","baseline":"alphabetic","color":"black"},"encoding":{"x":{"datum":0.78,"axis":{"orient":"bottom","values":[0,0.2,0.4,0.6,0.8,1.0],"tickSize":3,"labels":true,"format":".1f","labelPadding":6,"labelFont":"Liberation Sans","labelFontSize":18,"labelFlush":false,"labelOverlap":false,"title":null}},"y":{"datum":2.56,"axis":{"orient":"left","values":[0,1,2,3],"tickSize":3,"labels":false,"title":null}}}},
  {"data":{"values":[{}]},"mark":{"type":"text","text":"H-H","fontSize":13,"dx":15,"dy":5,"font":"Liberation Sans","fontStyle":"italic","fontWeight":"bold","align":"left","baseline":"alphabetic","color":"black"},"encoding":{"x":{"datum":0.78,"axis":{"orient":"top","values":[0,0.2,0.4,0.6,0.8,1.0],"tickSize":3,"labels":false,"title":null}},"y":{"datum":2.56,"axis":{"orient":"left","values":[0,1,2,3],"tickSize":3,"labels":false,"title":null}}}},
  {"data":{"values":[{}]},"mark":{"type":"text","text":"(r)","fontSize":23,"dx":40,"font":"Liberation Sans","fontStyle":"italic","fontWeight":"bold","align":"left","baseline":"alphabetic","color":"black"},"encoding":{"x":{"datum":0.78,"axis":{"orient":"top","values":[0,0.2,0.4,0.6,0.8,1.0],"tickSize":3,"labels":false,"title":null}},"y":{"datum":2.56,"axis":{"orient":"right","values":[0,1,2,3],"tickSize":3,"labels":false,"title":null}}}}
 ],
 "resolve":{"axis":{"x":"independent","y":"independent"}}},
{"width":281,"height":198,
 "layer":[
  {"transform":[{"filter":"datum.p=='L3' && datum.s=='a'"}],"mark":{"type":"line","strokeWidth":1.3,"color":"black"},
   "encoding":{"x":{"field":"r","type":"quantitative","scale":{"domain":[0,1.2],"nice":false},"axis":{"orient":"bottom","tickCount":24,"tickSize":-5,"labels":false,"title":null,"grid":true,"gridColor":"black","gridDash":[5,1000],"gridOpacity":1,"gridWidth":1}},
   "y":{"field":"g","type":"quantitative","scale":{"domain":[0,3.4],"nice":false},"axis":{"orient":"left","tickCount":17,"tickSize":-5,"labels":false,"title":null,"grid":true,"gridColor":"black","gridDash":[5,1000],"gridOpacity":1,"gridWidth":1}}}},
  {"transform":[{"filter":"datum.p=='L3' && datum.s=='b'"}],"mark":{"type":"line","strokeWidth":1.1,"color":"black"},
   "encoding":{"x":{"field":"r","type":"quantitative","axis":{"orient":"top","tickCount":24,"tickSize":-5,"labels":false,"title":null,"grid":true,"gridColor":"black","gridDash":[5,1000],"gridOpacity":1,"gridWidth":1}},
   "y":{"field":"g","type":"quantitative","axis":{"orient":"right","tickCount":17,"tickSize":-5,"labels":false,"title":null,"grid":true,"gridColor":"black","gridDash":[5,1000],"gridOpacity":1,"gridWidth":1}}}},
  {"data":{"values":[{}]},"mark":{"type":"text","text":"g","fontSize":23,"font":"Liberation Sans","fontStyle":"italic","fontWeight":"bold","align":"left","baseline":"alphabetic","color":"black"},"encoding":{"x":{"datum":0.758,"axis":{"orient":"bottom","values":[0,0.2,0.4,0.6,0.8,1.0],"tickSize":3,"labels":true,"format":".1f","labelPadding":6,"labelFont":"Liberation Sans","labelFontSize":18,"labelFlush":false,"labelOverlap":false,"title":"r / nm","titleFont":"Liberation Sans","titleFontSize":24,"titleFontStyle":"italic","titleFontWeight":"bold","titleColor":"black","titleAnchor":"end","titleAlign":"right","titleBaseline":"alphabetic","titleX":255,"titleY":50}},"y":{"datum":2.57,"axis":{"orient":"left","values":[0,1,2,3],"tickSize":3,"labels":false,"title":null}}}},
  {"data":{"values":[{}]},"mark":{"type":"text","text":"H-H","fontSize":13,"dx":15,"dy":5,"font":"Liberation Sans","fontStyle":"italic","fontWeight":"bold","align":"left","baseline":"alphabetic","color":"black"},"encoding":{"x":{"datum":0.758,"axis":{"orient":"top","values":[0,0.2,0.4,0.6,0.8,1.0],"tickSize":3,"labels":false,"title":null}},"y":{"datum":2.57,"axis":{"orient":"left","values":[0,1,2,3],"tickSize":3,"labels":false,"title":null}}}},
  {"data":{"values":[{}]},"mark":{"type":"text","text":"(r)","fontSize":23,"dx":40,"font":"Liberation Sans","fontStyle":"italic","fontWeight":"bold","align":"left","baseline":"alphabetic","color":"black"},"encoding":{"x":{"datum":0.758,"axis":{"orient":"top","values":[0,0.2,0.4,0.6,0.8,1.0],"tickSize":3,"labels":false,"title":null}},"y":{"datum":2.57,"axis":{"orient":"right","values":[0,1,2,3],"tickSize":3,"labels":true,"format":".1f","labelPadding":3,"labelFont":"Liberation Sans","labelFontSize":17,"labelFlush":false,"labelOverlap":false,"title":null}}}}
 ],
 "resolve":{"axis":{"x":"independent","y":"independent"}}}
],
"config": {
 "view": {"stroke": "black", "strokeWidth": 1.6},
 "axis": {"domain": false, "grid": false, "tickColor": "black", "labelColor": "black"}
}
}
